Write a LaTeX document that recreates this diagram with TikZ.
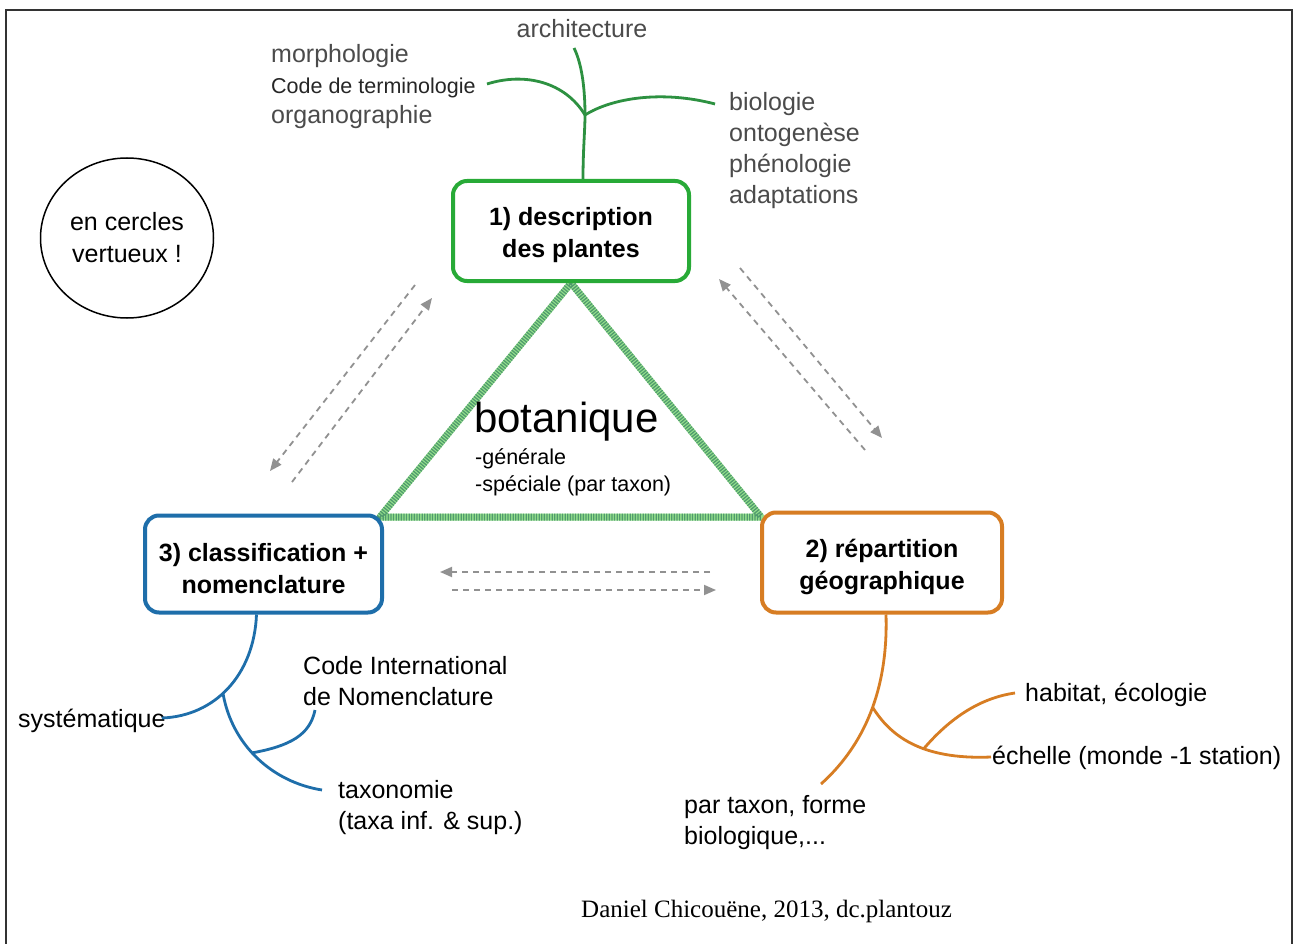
\documentclass[tikz,border=0pt]{standalone}
\usepackage{fontspec}
\setmainfont{Liberation Sans}
\newfontfamily\timesf{Liberation Serif}
\usetikzlibrary{arrows.meta,shapes.geometric,calc}
\definecolor{cgreen}{RGB}{40,170,55}
\definecolor{cgreentree}{RGB}{45,145,65}
\definecolor{cblue}{RGB}{30,110,170}
\definecolor{corange}{RGB}{215,125,35}
\definecolor{cgray}{RGB}{145,145,145}
\definecolor{hatchA}{RGB}{150,225,140}
\definecolor{hatchB}{RGB}{80,155,110}
\definecolor{labgray}{RGB}{75,75,75}
\begin{document}
\begin{tikzpicture}[x=1pt,y=-1pt,
  box/.style={draw, line width=4pt, rounded corners=14pt, fill=white, align=center,
    font=\fontsize{25}{32}\selectfont\bfseries, inner sep=0pt},
  lab/.style={anchor=base west, inner sep=0pt, align=left, font=\fontsize{25}{31}\selectfont},
  smalllab/.style={lab, font=\fontsize{21.5}{27}\selectfont},
  darr/.style={cgray, line width=1.8pt, dash pattern=on 6pt off 5pt,
    -{Triangle[length=12pt,width=10pt]}},
  tree/.style={line width=2.8pt},
  hatchbase/.style={line width=7pt, hatchA, line join=round},
  hatchstripe/.style={line width=7pt, hatchB, dash pattern=on 1.3pt off 1.3pt, line join=round}
]
\fill[white] (0,0) rectangle (1293,944);
\useasboundingbox (0,0) rectangle (1293,944);
% frame
\draw[line width=2pt, black!80] (6,944) -- (6,10) -- (1292,10) -- (1292,944);

% triangle
\coordinate (tA) at (571,283);
\coordinate (tL) at (380,517);
\coordinate (tR) at (761,517);
\draw[hatchbase] (tA) -- (tR) -- (tL) -- cycle;
\draw[hatchstripe] (tA) -- (tR) -- (tL) -- cycle;

% boxes
\node[box, draw=cgreen, minimum width=236pt, minimum height=100pt] (b1) at (571,231) {\rule{0pt}{27pt}1) description\\des plantes};
\node[box, draw=corange, minimum width=240pt, minimum height=100pt] (b2) at (882,562.5) {\rule{0pt}{27pt}2) répartition\\géographique};
\node[box, draw=cblue, minimum width=237pt, minimum height=97pt] (b3) at (263.5,564) {\rule{0pt}{27pt}3) classification +\\nomenclature};

% circle
\node[draw, ellipse, line width=1.5pt, minimum width=173pt, minimum height=160pt, align=center,
  font=\fontsize{25}{32}\selectfont, inner sep=0pt] (virt) at (127,238) {en cercles\\vertueux !};

% botanique
\node[anchor=base west, inner sep=0pt, font=\fontsize{42}{48}\selectfont] (bot) at (474,432) {botanique};
\node[smalllab] (botsub) at (475,491) {-générale\\-spéciale (par taxon)};

% top labels
\node[lab, anchor=base, text=labgray] (arch) at (582,38) {architecture};
\node[lab, text=labgray] (morph) at (271,63) {morphologie};
\node[smalllab, text=black!85] (code) at (271,94) {Code de terminologie};
\node[lab, text=labgray] (organ) at (271,124) {organographie};
\node[lab, text=labgray] (bio) at (729,204) {biologie\\ontogenèse\\phénologie\\adaptations};

% bottom-left labels
\node[lab] (syst) at (18,727) {systématique};
\node[lab] (cin) at (303,705) {Code International\\de Nomenclature};
\node[lab] (taxo) at (338,829) {taxonomie\\(taxa inf. \& sup.)};

% bottom-right labels
\node[lab] (habi) at (1025,701) {habitat, écologie};
\node[lab] (eche) at (992,764) {échelle (monde -1 station)};
\node[lab] (part) at (684,844) {par taxon, forme\\biologique,...};

% footer
\node[anchor=base west, inner sep=0pt, font=\timesf\fontsize{25}{30}\selectfont] (foot) at (581,917) {Daniel Chicouëne, 2013, dc.plantouz};

% top tree (green)
\coordinate (j1) at (585,115);
\coordinate (archend) at (574,48);
\coordinate (morphend) at (487,84);
\coordinate (bioend) at (715,104);
\draw[tree, cgreentree] ($(b1.north)+(12,0)$) .. controls (583,150) and (585,130) .. (j1);
\draw[tree, cgreentree] (j1) .. controls (585,85) and (581,62) .. (archend);
\draw[tree, cgreentree] (j1) .. controls (565,82) and (525,72) .. (morphend);
\draw[tree, cgreentree] (j1) .. controls (612,98) and (662,90) .. (bioend);

% bottom-left tree (blue)
\coordinate (systend) at (162,718);
\coordinate (taxoend) at (322,790);
\coordinate (cinend) at (315,710);
\draw[tree, cblue] ($(b3.south)+(-7,0)$) .. controls (254,675) and (215,716) .. (systend) coordinate[pos=0.55] (j3);
\draw[tree, cblue] (j3) .. controls (232,745) and (272,782) .. (taxoend) coordinate[pos=0.45] (j3b);
\draw[tree, cblue] (j3b) .. controls (290,746) and (310,735) .. (cinend);

% bottom-right tree (orange)
\coordinate (partend) at (821,784);
\coordinate (echeend) at (991,757);
\coordinate (habiend) at (1015,693);
\draw[tree, corange] ($(b2.south)+(4,0)$) .. controls (888,680) and (870,740) .. (partend) coordinate[pos=0.5] (j2);
\draw[tree, corange] (j2) .. controls (890,735) and (920,760) .. (echeend) coordinate[pos=0.6] (j2b);
\draw[tree, corange] (j2b) .. controls (950,718) and (980,698) .. (habiend);

% dashed arrows
\coordinate (l1s) at (415,285);
\coordinate (l1e) at (270,471);
\coordinate (l2s) at (292,482);
\coordinate (l2e) at (432,298);
\draw[darr] (l1s) -- (l1e);
\draw[darr] (l2s) -- (l2e);
\coordinate (r1s) at (740,268);
\coordinate (r1e) at (882,438);
\coordinate (r2s) at (865,450);
\coordinate (r2e) at (719,279);
\draw[darr] (r1s) -- (r1e);
\draw[darr] (r2s) -- (r2e);
\coordinate (h1s) at (710,572);
\coordinate (h1e) at (440,572);
\coordinate (h2s) at (452,590);
\coordinate (h2e) at (716,590);
\draw[darr] (h1s) -- (h1e);
\draw[darr] (h2s) -- (h2e);
\end{tikzpicture}
\end{document}
